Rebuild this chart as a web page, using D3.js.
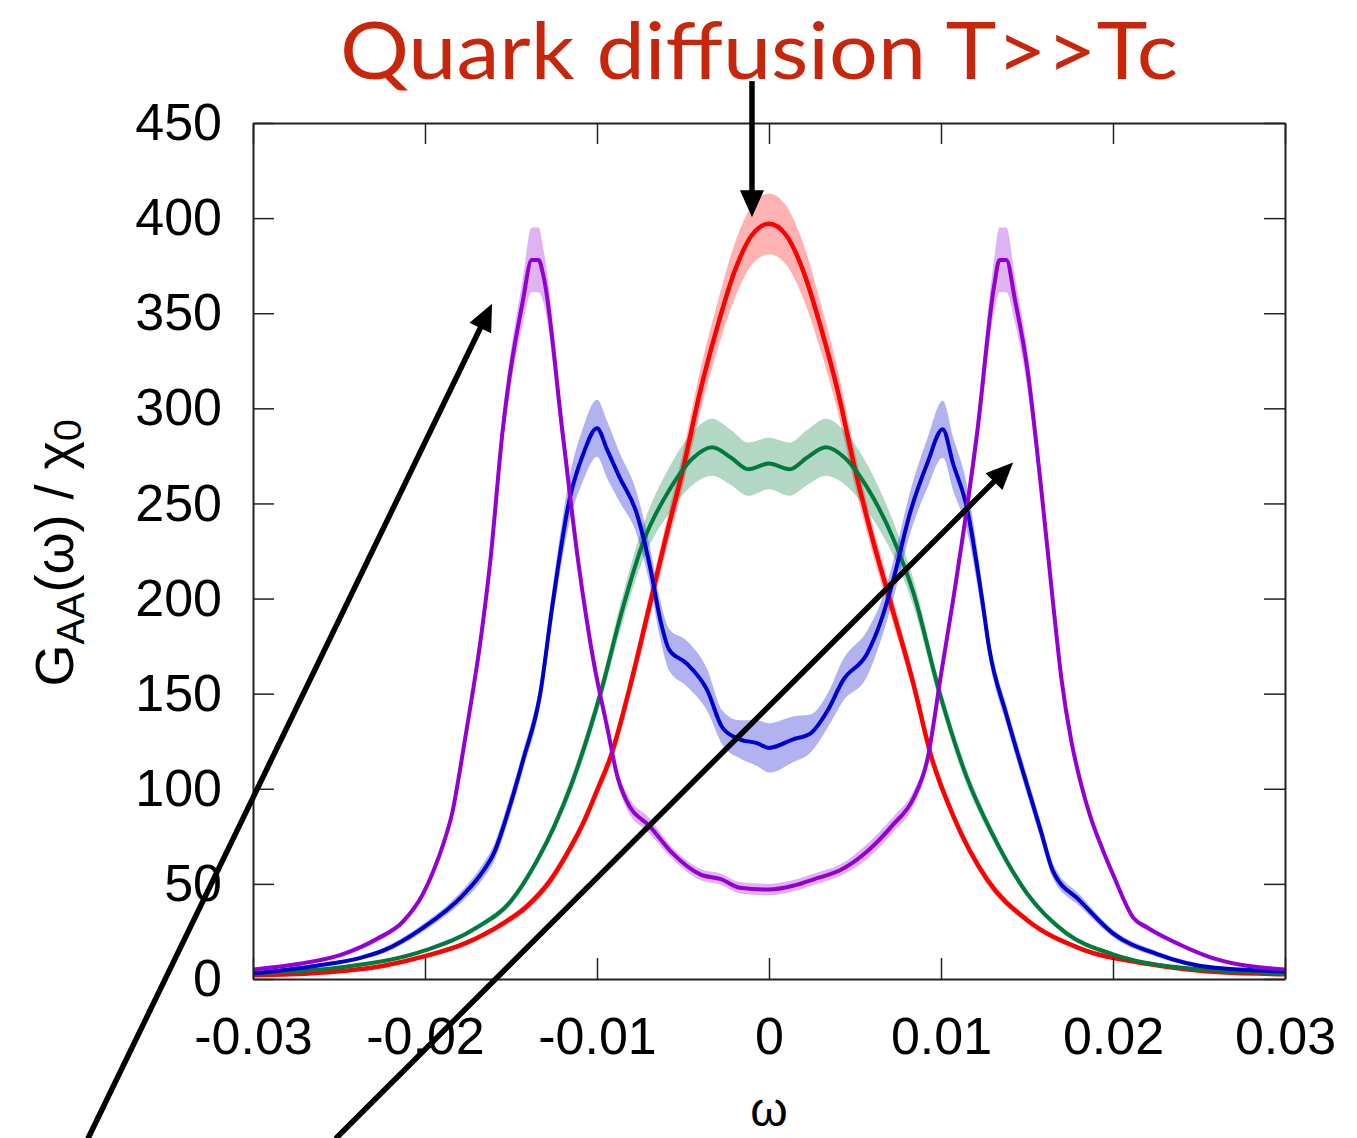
<!DOCTYPE html>
<html>
<head>
<meta charset="utf-8">
<script src="https://cdn.jsdelivr.net/npm/d3@7"></script>
<style>
  body { margin: 0; background: #fff; }
  svg { display: block; }
</style>
</head>
<body>
<svg></svg>
<script>
// Værdier (omega, G/chi0, halv båndbredde)
const redOmega = [-0.030,-0.0263,-0.0224,-0.020,-0.0176,-0.0155,-0.0141,-0.0127,-0.0118,-0.0108,-0.0100,-0.0092,-0.0081,-0.0069,-0.006,-0.005,-0.004,-0.003,-0.002,-0.001,0,0.001,0.002,0.003,0.004,0.005,0.006,0.0070,0.0084,0.0094,0.0107,0.0127,0.0150,0.0181,0.0220,0.0263,0.030];
const redValue = [2,3.2,7,12,19,29,38,52,65,82,99,117,153,198,232,268,309,343,372,391,397,391,372,343,309,268,232,200,155,118,86,52,31,16,8,3.5,2.5];
const redErr   = [0.5,0.5,0.8,1,1.2,1.5,2,2.5,2.8,3,3.5,4,5,6.5,7.5,9,11,12.5,14.5,15.5,16,15.5,14.5,12.5,11,9,7.5,6.5,5,4,3,2.5,1.5,1,0.8,0.5,0.5];

const greenOmega = [-0.030,-0.025,-0.020,-0.017,-0.015,-0.0135,-0.0125,-0.0115,-0.0098,-0.0085,-0.0073,-0.0058,-0.0044,-0.0033,-0.0022,-0.0012,0,0.0012,0.0022,0.0033,0.0044,0.0058,0.0072,0.0084,0.0099,0.0115,0.013,0.015,0.0173,0.020,0.0239,0.030];
const greenValue = [3,6,15,27,41,62,80,102,150,195,230,257,274,279.5,274,268,271,268,274,279.5,274,257,232,203,151,106,76,45,24,13,6,3];
const greenErr   = [0.5,0.8,1,1.5,2,2.5,3,4,5,7,9,12,14,15,14.5,14,13.5,14,14.5,15,14,12,9,7,5,4,3,2,1.5,1,0.8,0.5];

const blueOmega = [-0.030,-0.0263,-0.0238,-0.0224,-0.0201,-0.0178,-0.0166,-0.0160,-0.0152,-0.0143,-0.0133,-0.0126,-0.0116,-0.0108,-0.0100,-0.0094,-0.0087,-0.0077,-0.0069,-0.0063,-0.0058,-0.0048,-0.0036,-0.0027,-0.0017,-0.0007,0,0.0014,0.0024,0.0034,0.0043,0.0057,0.0065,0.0072,0.0082,0.0092,0.0101,0.0107,0.0115,0.0124,0.0128,0.0138,0.0148,0.0158,0.0165,0.0181,0.0200,0.0226,0.0258,0.030];
const blueValue = [3,7,11,15,27,44,57,66,87,115,150,196,252,276,289.5,278,264,245,216,188,173,166,152,132,126,124,121.5,126,129,141,157,171,188,209,245,271,289,271,248,199,174,139,108,78,57,41,24,13,6,4];
const blueErr   = [0.5,1,1,1.5,2,3,4,4.5,5,5,6,8,12,14,15,15,13,11,10,10,11,12,11,9,10,12,13,12,10,9,11,12,10,10,11,13,15,14,12,8,6,5,5,4.5,4,3,2,1.5,1,0.5];

const purpleOmega = [-0.030,-0.0273,-0.0248,-0.0228,-0.0213,-0.0201,-0.0195,-0.0189,-0.0184,-0.0180,-0.0174,-0.0168,-0.0162,-0.0155,-0.0143,-0.0138,-0.0134,-0.0131,-0.0120,-0.0111,-0.0102,-0.0094,-0.0088,-0.0083,-0.0069,-0.0056,-0.0040,-0.0028,-0.0017,0,0.0014,0.0028,0.0041,0.0057,0.0072,0.0084,0.0092,0.0100,0.0107,0.0121,0.0131,0.0134,0.0138,0.0143,0.0150,0.0158,0.0165,0.0170,0.0176,0.0181,0.0187,0.0194,0.0200,0.0212,0.0220,0.0239,0.0258,0.030];
const purpleValue = [5,8,13,21,30,45,57,72,88,108,141,176,220,287,357,378,378,369,287,220,167,132,106,94,80,66,55,52.5,48,47,49,53,57,67,81,95,115,160,199,287,365,378,378,357,322,260,199,158,124,104,85,68,55,32,27,18,11,5];
const purpleErr   = [0.8,1,1,1.5,1.5,2,2,2,2.5,3,3.5,4,5,8,12,17,17,14,8,5,4,3,3.5,4,4,3,3,3,3,3,3,3,3,4,4,4,3.5,4,5,8,14,17,17,12,10,8,5,4,3,2.5,2.5,2,2,1.5,1.5,1,1,0.8];

const series = [
  { omega: redOmega,    value: redValue,    err: redErr,    line: "#ff0000", band: "rgba(255,0,0,0.3)",   width: 4.5 },
  { omega: greenOmega,  value: greenValue,  err: greenErr,  line: "#007a3d", band: "rgba(0,122,61,0.3)",  width: 4 },
  { omega: blueOmega,   value: blueValue,   err: blueErr,   line: "#0000cc", band: "rgba(0,0,204,0.3)",   width: 4 },
  { omega: purpleOmega, value: purpleValue, err: purpleErr, line: "#9400d3", band: "rgba(148,0,211,0.3)", width: 4 }
];

const xTicks = [-0.03,-0.02,-0.01,0,0.01,0.02,0.03];
const yTicks = [0,50,100,150,200,250,300,350,400,450];

// Pile (hale og spids i dataenheder)
const arrows = [
  { from: [-0.00099, 472], to: [-0.00099, 400.5] },
  { from: [-0.0396, -84],  to: [-0.0161, 355] },
  { from: [-0.0252, -84],  to: [0.01419, 271.5] }
];

const width = 1357, height = 1138;
const margin = { top: 123, right: 72, bottom: 159, left: 253 };

const x = d3.scaleLinear().domain([-0.03, 0.03]).range([margin.left, width - margin.right]);
const y = d3.scaleLinear().domain([0, 450]).range([height - margin.bottom, margin.top]);

const svg = d3.select("svg").attr("width", width).attr("height", height);
svg.append("rect").attr("width", width).attr("height", height).attr("fill", "#fff");

const defs = svg.append("defs");
defs.append("clipPath").attr("id", "plotclip")
  .append("rect")
  .attr("x", margin.left).attr("y", margin.top)
  .attr("width", width - margin.left - margin.right)
  .attr("height", height - margin.top - margin.bottom);

const plot = svg.append("g").attr("clip-path", "url(#plotclip)");

// Bånd først, derefter linjer
series.forEach(s => {
  const pts = s.omega.map((o, i) => ({ o, v: s.value[i], e: s.err[i] }));
  const area = d3.area()
    .x(d => x(d.o))
    .y0(d => y(d.v - d.e))
    .y1(d => y(d.v + d.e))
    .curve(d3.curveMonotoneX);
  plot.append("path").datum(pts).attr("d", area).attr("fill", s.band);
});
series.forEach(s => {
  const pts = s.omega.map((o, i) => ({ o, v: s.value[i] }));
  const line = d3.line().x(d => x(d.o)).y(d => y(d.v)).curve(d3.curveMonotoneX);
  plot.append("path").datum(pts).attr("d", line)
    .attr("fill", "none").attr("stroke", s.line).attr("stroke-width", s.width)
    .attr("stroke-linejoin", "round");
});

// Akser (indadvendte streger på alle fire sider)
const tickLen = 21;
const fontFam = "'Liberation Sans', Arial, Helvetica, sans-serif";
const fmtX = d => d === 0 ? "0" : d3.format(".2f")(d).replace("\u2212", "-");

const gx = svg.append("g").attr("transform", `translate(0,${y(0)})`)
  .call(d3.axisBottom(x).tickValues(xTicks).tickSizeInner(-tickLen).tickSizeOuter(0).tickPadding(38).tickFormat(fmtX));
const gxt = svg.append("g").attr("transform", `translate(0,${y(450)})`)
  .call(d3.axisTop(x).tickValues(xTicks).tickSizeInner(-tickLen).tickSizeOuter(0).tickFormat(""));
const gy = svg.append("g").attr("transform", `translate(${x(-0.03)},0)`)
  .call(d3.axisLeft(y).tickValues(yTicks).tickSizeInner(-tickLen).tickSizeOuter(0).tickPadding(31));
const gyr = svg.append("g").attr("transform", `translate(${x(0.03)},0)`)
  .call(d3.axisRight(y).tickValues(yTicks).tickSizeInner(-tickLen).tickSizeOuter(0).tickFormat(""));

[gx, gxt, gy, gyr].forEach(g => {
  g.select(".domain").attr("stroke", "#222").attr("stroke-width", 2);
  g.selectAll(".tick line").attr("stroke", "#222").attr("stroke-width", 1.5);
  g.selectAll(".tick text").attr("fill", "#000").style("font-family", fontFam).style("font-size", "52px");
});

// Aksetitler
svg.append("text")
  .attr("x", x(0)).attr("y", 1126)
  .attr("text-anchor", "middle")
  .style("font-family", fontFam).style("font-size", "48px")
  .text("ω");

const yl = svg.append("text")
  .attr("transform", `translate(73,553) rotate(-90)`)
  .attr("text-anchor", "middle")
  .style("font-family", fontFam).style("font-size", "54px");
yl.append("tspan").text("G");
yl.append("tspan").attr("dy", 11).style("font-size", "39px").text("AA");
yl.append("tspan").attr("dy", -11).text("(ω) / χ");
yl.append("tspan").attr("dy", 8).style("font-size", "39px").text("0");

// Titel
svg.append("text")
  .attr("x", 340).attr("y", 79)
  .attr("textLength", 838).attr("lengthAdjust", "spacingAndGlyphs")
  .attr("fill", "#c8260a")
  .style("font-family", "Lato, 'Open Sans', sans-serif").style("font-size", "80px")
  .text("Quark diffusion T>>Tc");

// Pile
arrows.forEach(a => {
  const [x1, y1] = [x(a.from[0]), y(a.from[1])];
  const [x2, y2] = [x(a.to[0]), y(a.to[1])];
  const len = Math.hypot(x2 - x1, y2 - y1);
  const back = 20;
  svg.append("line")
    .attr("x1", x1).attr("y1", y1)
    .attr("x2", x2 - (x2 - x1) / len * back).attr("y2", y2 - (y2 - y1) / len * back)
    .attr("stroke", "#000").attr("stroke-width", 5.5);
  svg.append("path")
    .attr("transform", `translate(${x2},${y2}) rotate(${Math.atan2(y2 - y1, x2 - x1) * 180 / Math.PI})`)
    .attr("d", "M0,0 L-27,-12 L-27,12 Z")
    .attr("fill", "#000");
});
</script>
</body>
</html>
